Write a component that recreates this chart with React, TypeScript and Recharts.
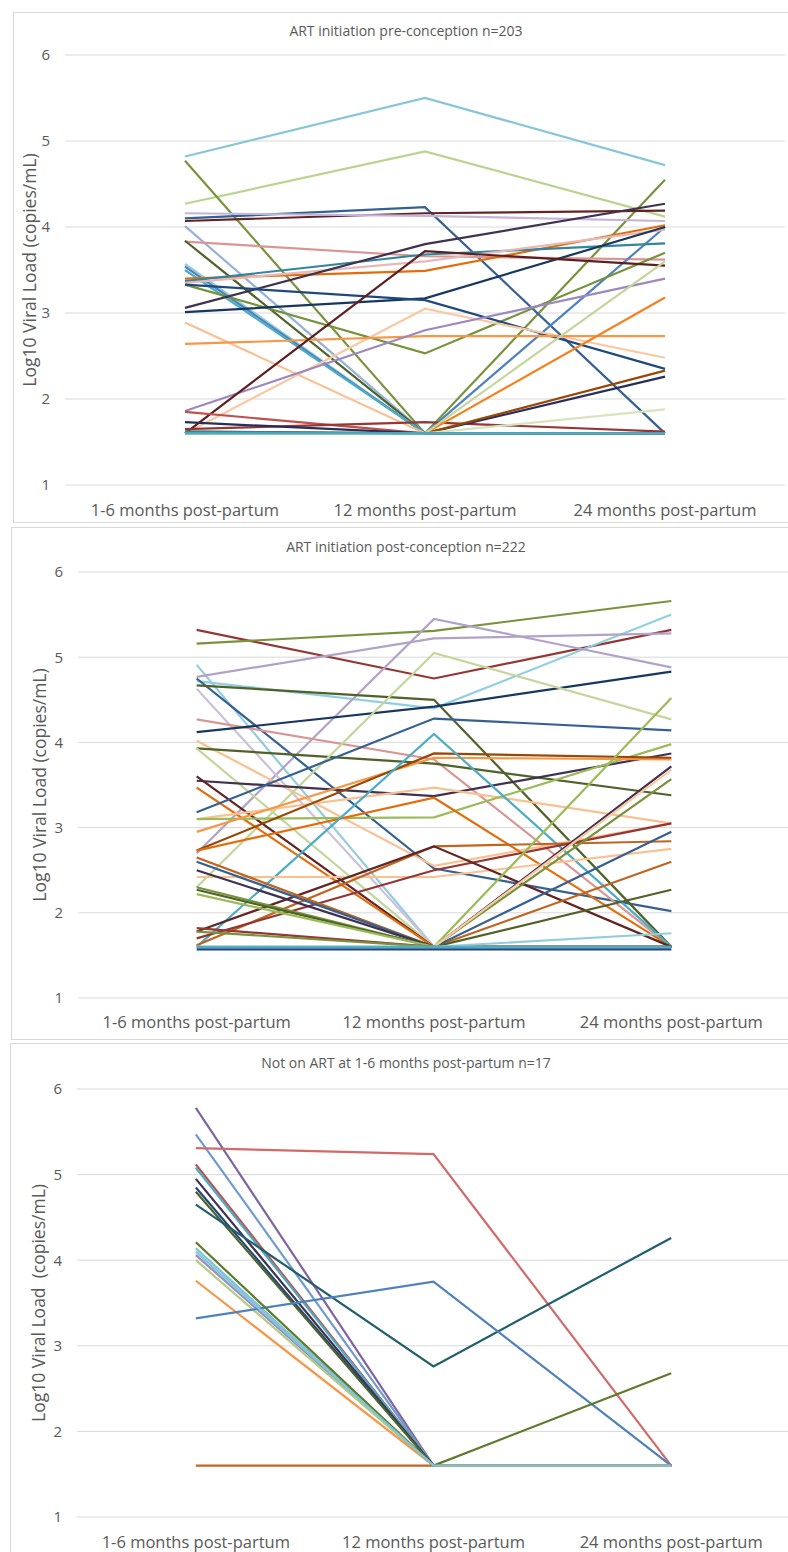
import React from "react";
import { LineChart, Line, XAxis, YAxis, CartesianGrid } from "recharts";

const months = ["1-6 months post-partum", "12 months post-partum", "24 months post-partum"];
const yTicks = [1, 2, 3, 4, 5, 6];
const font = "'Open Sans', 'Noto Sans', sans-serif";
const ink = "#595959";

// ART initiation pre-conception, one triple per woman shown
const preValues: number[][] = [
  [4.82, 5.5, 4.72],
  [4.27, 4.88, 4.12],
  [4.77, 1.6, 4.55],
  [4.1, 4.23, 1.6],
  [4.07, 4.16, 4.19],
  [4.16, 4.13, 4.07],
  [4.01, 1.6, 1.6],
  [3.83, 3.66, 3.62],
  [3.84, 1.6, 1.6],
  [3.57, 1.6, 1.6],
  [3.54, 1.6, 4.0],
  [3.5, 1.6, 1.6],
  [3.4, 3.49, 4.02],
  [3.37, 3.68, 3.81],
  [3.35, 3.6, 3.97],
  [3.33, 2.53, 3.7],
  [3.06, 3.8, 4.27],
  [3.01, 3.17, 4.0],
  [3.33, 3.15, 2.35],
  [2.89, 1.6, 1.6],
  [1.6, 3.05, 2.48],
  [2.64, 2.73, 2.73],
  [1.86, 2.8, 3.4],
  [1.6, 3.72, 3.55],
  [1.85, 1.6, 1.6],
  [1.65, 1.73, 1.62],
  [1.73, 1.6, 2.26],
  [1.62, 1.6, 2.33],
  [1.6, 1.6, 3.18],
  [1.6, 1.6, 1.88],
  [1.6, 1.6, 3.6],
  [1.62, 1.6, 1.6],
  [1.6, 1.6, 1.6],
];
const preColors = [
  "#86c6d8", "#b9d48e", "#77933c", "#366092", "#632523", "#c3b5d8", "#95b3d7",
  "#d99694", "#4f6228", "#93cddd", "#4f81bd", "#4bacc6", "#e46c0a", "#31859c",
  "#e6b9b8", "#76923c", "#403151", "#17375e", "#1f497d", "#fac090", "#f9c9a3",
  "#f79646", "#9d87c0", "#5c1f1f", "#c0504d", "#953735", "#262f5a", "#974706",
  "#f5801e", "#d7e4bd", "#c3d69b", "#31859c", "#4bacc6",
];

// ART initiation post-conception
const postValues: number[][] = [
  [5.32, 4.75, 5.32],
  [5.16, 5.31, 5.66],
  [4.91, 1.6, 1.6],
  [4.72, 4.4, 5.5],
  [4.77, 5.22, 5.28],
  [2.7, 5.45, 4.88],
  [4.63, 1.6, 1.6],
  [4.75, 2.52, 2.02],
  [4.67, 4.5, 1.6],
  [4.27, 3.8, 1.6],
  [4.12, 4.42, 4.83],
  [4.02, 2.55, 3.05],
  [3.93, 3.75, 3.38],
  [3.93, 1.6, 1.6],
  [2.3, 5.05, 4.27],
  [3.55, 3.37, 3.87],
  [3.6, 1.6, 1.6],
  [3.47, 1.6, 1.6],
  [3.18, 4.28, 4.14],
  [3.1, 3.47, 3.05],
  [3.1, 3.12, 3.98],
  [2.95, 3.82, 3.8],
  [2.73, 3.87, 3.82],
  [2.73, 3.35, 1.6],
  [1.6, 4.1, 1.6],
  [2.42, 2.42, 2.75],
  [1.62, 2.78, 2.84],
  [1.7, 2.5, 3.05],
  [1.78, 2.78, 1.6],
  [2.65, 1.6, 2.6],
  [2.6, 1.6, 2.95],
  [2.5, 1.6, 3.72],
  [2.3, 1.6, 3.57],
  [2.27, 1.6, 2.27],
  [2.22, 1.6, 4.52],
  [1.6, 1.6, 3.68],
  [1.82, 1.6, 1.6],
  [1.78, 1.6, 1.6],
  [1.6, 1.6, 1.76],
  [1.57, 1.57, 1.57],
  [1.6, 1.6, 1.6],
];
const postColors = [
  "#943634", "#77933c", "#93cddd", "#8fd0e0", "#b3a2c7", "#b3a2c7", "#ccc1da",
  "#366092", "#4f6228", "#d99694", "#17375e", "#fac090", "#4f6228", "#c3d69b",
  "#c3d69b", "#403151", "#632523", "#e46c0a", "#366092", "#fac090", "#9bbb59",
  "#f79646", "#974706", "#e46c0a", "#4bacc6", "#fac090", "#c0651f", "#943634",
  "#632523", "#c0651f", "#366092", "#403151", "#77933c", "#4f6228", "#9bbb59",
  "#fbc9a0", "#953735", "#77933c", "#93cddd", "#1f497d", "#4bacc6",
];

// Not on ART at 1-6 months post-partum
const notValues: number[][] = [
  [5.78, 1.6, 1.6],
  [5.47, 1.6, 1.6],
  [5.31, 5.24, 1.6],
  [5.12, 1.6, 1.6],
  [5.08, 1.6, 1.6],
  [4.95, 1.6, 1.6],
  [4.85, 1.6, 1.6],
  [4.8, 1.6, 1.6],
  [4.65, 2.76, 4.26],
  [4.14, 1.6, 1.6],
  [4.06, 1.6, 1.6],
  [4.0, 1.6, 1.6],
  [3.76, 1.6, 1.6],
  [3.32, 3.75, 1.6],
  [1.6, 1.6, 1.6],
  [4.21, 1.6, 2.68],
  [4.1, 1.6, 1.6],
];
const notColors = [
  "#8064a2", "#6f9bd1", "#d16b69", "#c0504d", "#4bacc6", "#403151", "#1f497d",
  "#4f6228", "#215f6e", "#7dc3d6", "#9f88c4", "#b3cc85", "#f79646", "#4f81bd",
  "#c0651f", "#5f7a2c", "#7ec6d8",
];

function buildRows(values: number[][]) {
  return months.map((m, i) => {
    const row: Record<string, string | number> = { month: m };
    values.forEach((v, k) => {
      row["s" + k] = v[i];
    });
    return row;
  });
}

interface PanelProps {
  box: { top: number; left: number; bottom: number };
  plot: { top: number; bottom: number; left: number; right: number };
  title: string;
  yLabel: string;
  yLabelX: number;
  titleY: number;
  xGap: number;
  values: number[][];
  colors: string[];
}

function Panel({ box, plot, title, yLabel, yLabelX, titleY, xGap, values, colors }: PanelProps) {
  const h = box.bottom - box.top;
  const data = buildRows(values);
  const band = (plot.right - plot.left) / 3;
  const axisW = 50;
  const xAxisH = 40;
  return (
    <>
      <div
        style={{
          position: "absolute",
          left: box.left,
          top: box.top,
          width: 800 - box.left,
          height: h,
          border: "1px solid #d9d9d9",
          boxSizing: "border-box",
          background: "#fff",
        }}
      />
      <div style={{ position: "absolute", left: 0, top: box.top }}>
        <LineChart
          width={790}
          height={h}
          data={data}
          margin={{
            top: plot.top - box.top,
            right: 790 - plot.right,
            bottom: h - (plot.bottom - box.top) - xAxisH,
            left: plot.left - axisW,
          }}
        >
          <CartesianGrid vertical={false} stroke="#d9d9d9" />
          <XAxis
            dataKey="month"
            height={xAxisH}
            padding={{ left: band / 2, right: band / 2 }}
            axisLine={false}
            tickLine={false}
            tickSize={0}
            tickMargin={xGap}
            interval={0}
            tick={{ fill: ink, fontSize: 16.5, fontFamily: font }}
          />
          <YAxis
            type="number"
            width={axisW}
            domain={[1, 6]}
            ticks={yTicks}
            axisLine={false}
            tickLine={false}
            tickSize={0}
            tickMargin={15}
            tick={{ fill: ink, fontSize: 15, fontFamily: font }}
          />
          {values.map((_, k) => (
            <Line
              key={k}
              dataKey={"s" + k}
              stroke={colors[k]}
              strokeWidth={2.2}
              dot={false}
              activeDot={false}
              isAnimationActive={false}
            />
          ))}
        </LineChart>
      </div>
      <div
        style={{
          position: "absolute",
          left: 406,
          top: titleY,
          transform: "translate(-50%, -50%)",
          whiteSpace: "nowrap",
          fontFamily: font,
          fontSize: 14,
          color: ink,
          lineHeight: 1,
        }}
      >
        {title}
      </div>
      <div
        style={{
          position: "absolute",
          left: yLabelX,
          top: (plot.top + plot.bottom) / 2,
          transform: "translate(-50%, -50%) rotate(-90deg)",
          whiteSpace: "pre",
          fontFamily: font,
          fontSize: 17.5,
          color: ink,
          lineHeight: 1,
        }}
      >
        {yLabel}
      </div>
    </>
  );
}

export default function App() {
  return (
    <div
      style={{
        position: "absolute",
        left: 0,
        top: 0,
        width: 788,
        height: 1552,
        overflow: "hidden",
        background: "#fff",
      }}
    >
      <Panel
        box={{ top: 12, left: 13, bottom: 523 }}
        plot={{ top: 55, bottom: 485, left: 65, right: 785 }}
        title="ART initiation pre-conception n=203"
        yLabel="Log10 Viral Load (copies/mL)"
        yLabelX={30}
        titleY={31}
        xGap={19}
        values={preValues}
        colors={preColors}
      />
      <Panel
        box={{ top: 527, left: 11, bottom: 1040 }}
        plot={{ top: 572, bottom: 998, left: 78, right: 790 }}
        title="ART initiation post-conception n=222"
        yLabel="Log10 Viral Load (copies/mL)"
        yLabelX={40}
        titleY={547}
        xGap={18}
        values={postValues}
        colors={postColors}
      />
      <Panel
        box={{ top: 1043, left: 10, bottom: 1562 }}
        plot={{ top: 1089, bottom: 1517, left: 77, right: 790 }}
        title="Not on ART at 1-6 months post-partum n=17"
        yLabel="Log10 Viral Load  (copies/mL)"
        yLabelX={39}
        titleY={1063}
        xGap={19}
        values={notValues}
        colors={notColors}
      />
    </div>
  );
}
